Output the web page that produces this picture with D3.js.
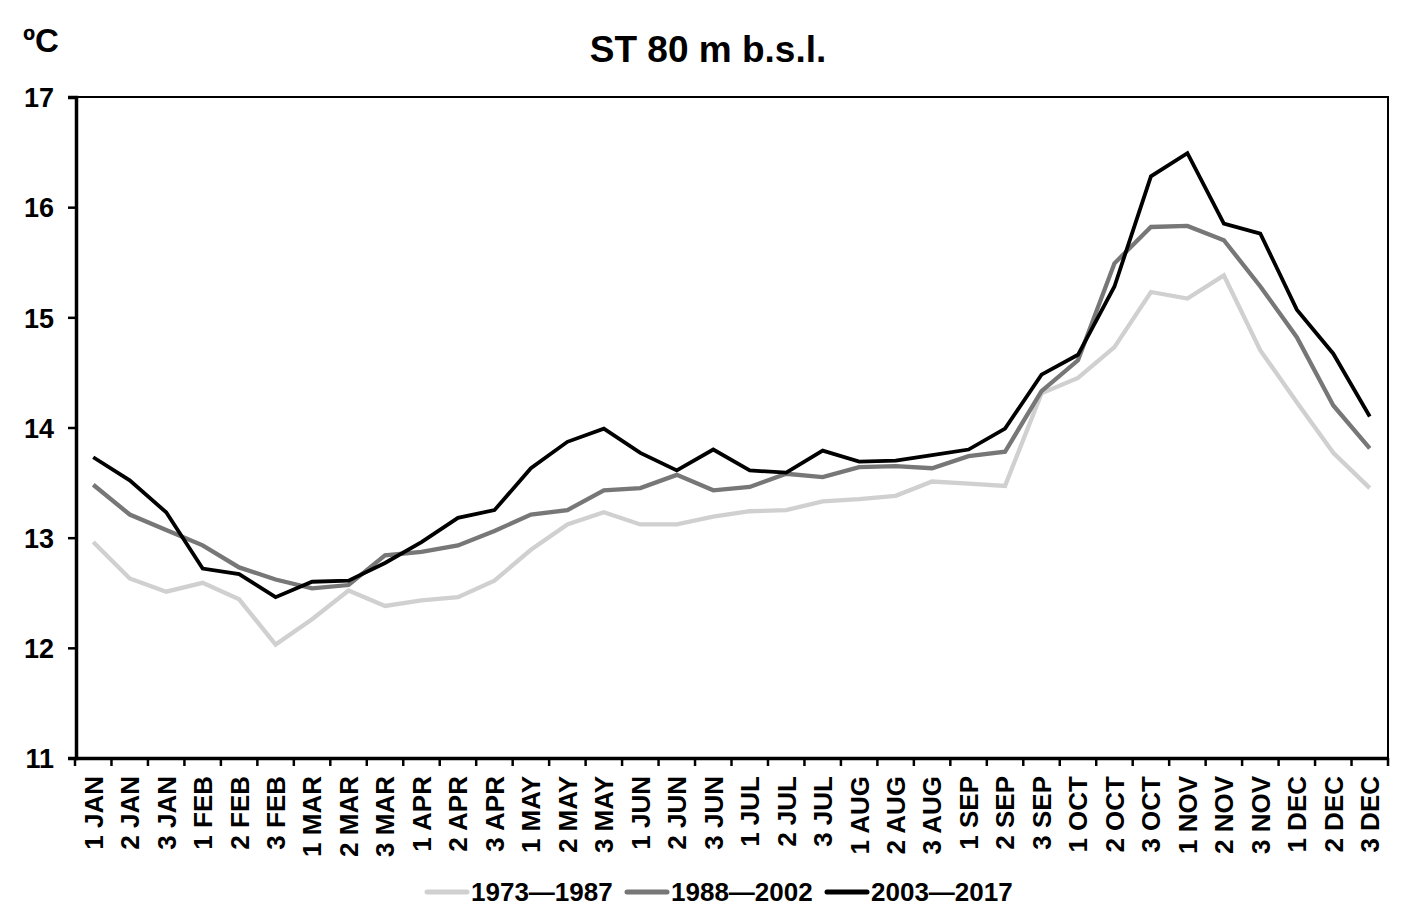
<!DOCTYPE html>
<html>
<head>
<meta charset="utf-8">
<script src="https://cdn.jsdelivr.net/npm/d3@7"></script>
<style>
  html, body { margin: 0; padding: 0; background: #fff; }
  svg { display: block; }
  text { font-family: "Liberation Sans", Arial, sans-serif; font-weight: bold; fill: #000; }
</style>
</head>
<body>
<svg id="chart" width="1418" height="921"></svg>
<script>
const categories = ["1 JAN","2 JAN","3 JAN","1 FEB","2 FEB","3 FEB","1 MAR","2 MAR","3 MAR","1 APR","2 APR","3 APR",
  "1 MAY","2 MAY","3 MAY","1 JUN","2 JUN","3 JUN","1 JUL","2 JUL","3 JUL","1 AUG","2 AUG","3 AUG",
  "1 SEP","2 SEP","3 SEP","1 OCT","2 OCT","3 OCT","1 NOV","2 NOV","3 NOV","1 DEC","2 DEC","3 DEC"];

const s1973_1987 = [12.96,12.63,12.51,12.59,12.44,12.03,12.26,12.52,12.38,12.43,12.46,12.61,
  12.89,13.12,13.23,13.12,13.12,13.19,13.24,13.25,13.33,13.35,13.38,13.51,
  13.49,13.47,14.31,14.45,14.73,15.23,15.17,15.38,14.70,14.23,13.77,13.45];
const s1988_2002 = [13.48,13.21,13.07,12.93,12.73,12.62,12.54,12.57,12.84,12.87,12.93,13.06,
  13.21,13.25,13.43,13.45,13.57,13.43,13.46,13.58,13.55,13.64,13.65,13.63,
  13.74,13.78,14.33,14.61,15.49,15.82,15.83,15.70,15.28,14.82,14.20,13.81];
const s2003_2017 = [13.73,13.52,13.23,12.72,12.67,12.46,12.60,12.61,12.77,12.96,13.18,13.25,
  13.63,13.87,13.99,13.77,13.61,13.80,13.61,13.59,13.79,13.69,13.70,13.75,
  13.80,13.99,14.48,14.66,15.28,16.28,16.49,15.85,15.76,15.07,14.67,14.10];

const seriesNames = ["1973\u20141987","1988\u20142002","2003\u20142017"];
const seriesColors = ["#d0d0d0","#777777","#000000"];
const yTicks = [11,12,13,14,15,16,17];

const series = [s1973_1987, s1988_2002, s2003_2017];

const svg = d3.select("#chart");
const L = 76, R = 1388, T = 97, B = 758;

const x = d3.scaleBand().domain(categories).range([L - 1, R]).padding(0);
const y = d3.scaleLinear().domain([11, 17]).range([B, T]);

// frame (top and right thin)
svg.append("rect").attr("x", L).attr("y", T).attr("width", R - L).attr("height", B - T)
  .attr("fill", "none").attr("stroke", "#000").attr("stroke-width", 2);

// Y axis
const yAxis = d3.axisLeft(y).tickValues(yTicks).tickSize(8).tickPadding(14).tickFormat(d3.format("d"));
const gy = svg.append("g").attr("transform", `translate(${L},0)`).call(yAxis);
gy.select(".domain").attr("stroke-width", 3.5);
gy.selectAll(".tick line").attr("stroke-width", 2.5);
gy.selectAll(".tick text").style("font-size", "27px").attr("dy", "0.36em");

// X axis
const xAxis = d3.axisBottom(x).tickSize(0).tickPadding(0);
const gx = svg.append("g").attr("transform", `translate(0,${B})`).call(xAxis);
gx.select(".domain").attr("stroke-width", 3.5);
gx.selectAll(".tick text")
  .style("font-size", "26px")
  .attr("text-anchor", "end")
  .attr("transform", "rotate(-90)")
  .attr("x", -18).attr("y", 0).attr("dy", "0.36em");
// boundary tick marks
const boundaries = categories.map(c => x(c)).concat([x(categories[categories.length - 1]) + x.bandwidth()]);
gx.selectAll("line.bt").data(boundaries).enter().append("line").attr("class", "bt")
  .attr("x1", d => d).attr("x2", d => d).attr("y1", 0).attr("y2", 8)
  .attr("stroke", "#000").attr("stroke-width", 2.5);

// lines
const line = d3.line().x((d, i) => x(categories[i]) + x.bandwidth() / 2).y(d => y(d));
series.forEach((s, k) => {
  svg.append("path").datum(s).attr("d", line).attr("fill", "none")
    .attr("stroke", seriesColors[k]).attr("stroke-width", k === 2 ? 3.8 : 4.3)
    .attr("stroke-linejoin", "miter").attr("stroke-linecap", "butt");
});

// title
svg.append("text").attr("x", 708).attr("y", 62).attr("text-anchor", "middle")
  .style("font-size", "37px").text("ST 80 m b.s.l.");
svg.append("text").attr("x", 23).attr("y", 52).style("font-size", "33px").text("\u00baC");

// legend
const legendX = [427, 627, 827];
const lg = svg.append("g");
seriesNames.forEach((n, k) => {
  lg.append("line").attr("x1", legendX[k]).attr("x2", legendX[k] + 40).attr("y1", 892).attr("y2", 892)
    .attr("stroke", seriesColors[k]).attr("stroke-width", 5).attr("stroke-linecap", "round");
  lg.append("text").attr("x", legendX[k] + 44).attr("y", 901).style("font-size", "26px").text(n);
});
</script>
</body>
</html>
